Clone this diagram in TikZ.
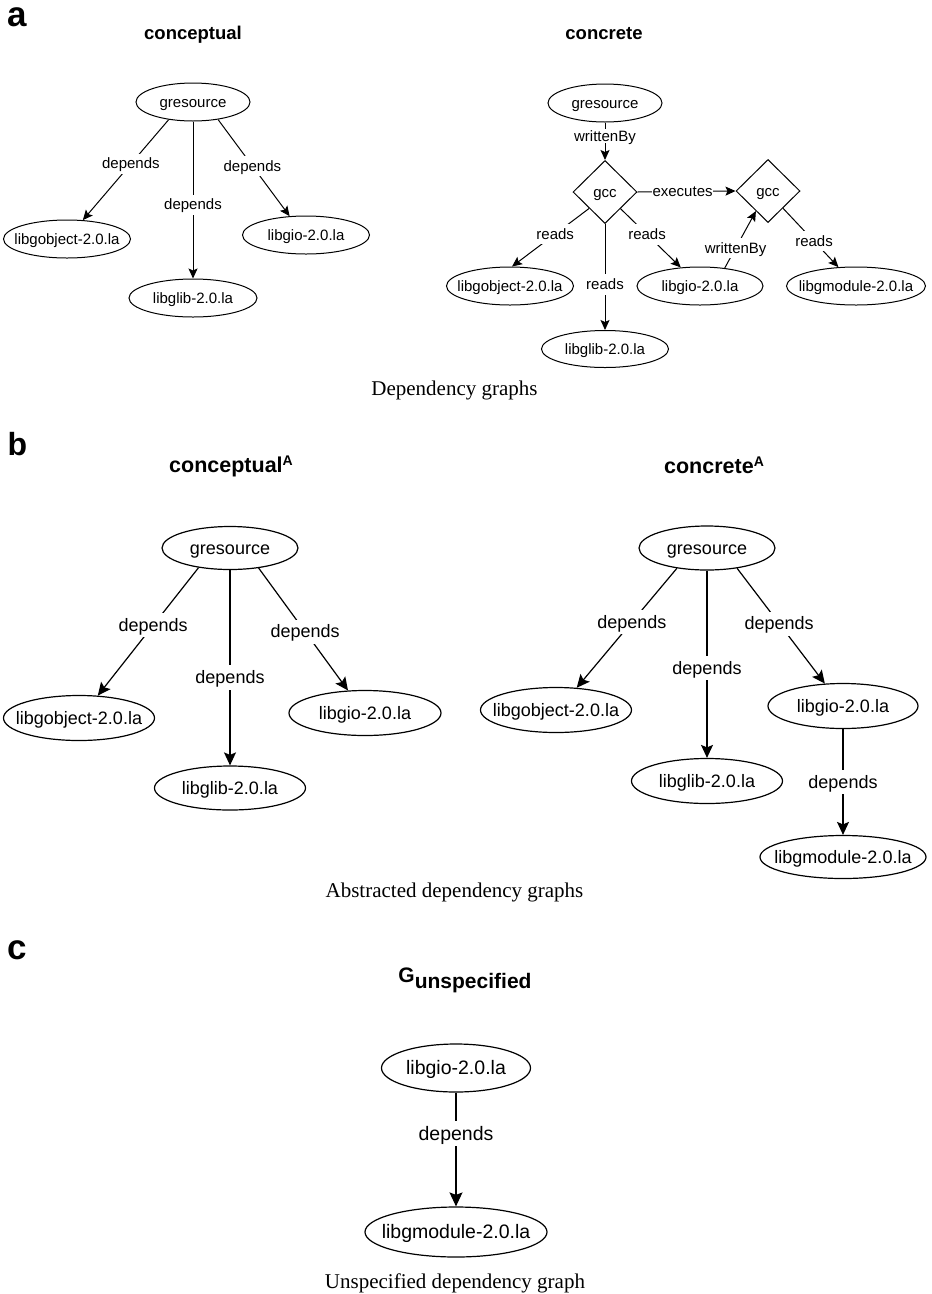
\documentclass[tikz,border=0pt]{standalone}
\usepackage{fontspec}
\newfontfamily\hv{Liberation Sans}
\newfontfamily\tm{Liberation Serif}
\usetikzlibrary{shapes.geometric,arrows.meta}
\newcommand\ztext[1]{\makebox[0pt]{#1}}
\begin{document}
\begin{tikzpicture}[x=1pt,y=-1pt,
  fA/.style={font={\hv\fontsize{15}{18}\selectfont}, text height=10.2pt, text depth=0pt},
  fB/.style={font={\hv\fontsize{18}{21}\selectfont}, text height=12.2pt, text depth=0pt},
  fC/.style={font={\hv\fontsize{19.5}{23}\selectfont}, text height=13.3pt, text depth=0pt},
  ovA/.style={fA, ellipse, draw, line width=1pt, inner sep=0pt, minimum height=38pt, minimum width=#1},
  ovB/.style={fB, ellipse, draw, line width=1.2pt, inner sep=0pt, minimum height=44pt, minimum width=#1},
  ovC/.style={fC, ellipse, draw, line width=1.2pt, inner sep=0pt, minimum height=48pt, minimum width=#1},
  dia/.style={fA, diamond, draw, line width=1pt, inner sep=0pt, minimum width=64pt, minimum height=63pt},
  lblA/.style={fA, fill=white, inner xsep=1pt, inner ysep=5pt},
  lblB/.style={fB, fill=white, inner xsep=1.5pt, inner ysep=6pt},
  lblC/.style={fC, fill=white, inner xsep=1.5pt, inner ysep=6pt},
  edA/.style={line width=1pt, -{Stealth[length=10pt,width=9pt,inset=2pt]}},
  edB/.style={line width=1.2pt, -{Stealth[length=13pt,width=12pt,inset=2.5pt]}},
  panel/.style={anchor=base west, font={\hv\bfseries\fontsize{35}{40}\selectfont}},
  ttlA/.style={anchor=base, font={\hv\bfseries\fontsize{18.5}{22}\selectfont}},
  ttlB/.style={anchor=base, font={\hv\bfseries\fontsize{21.5}{25}\selectfont}},
  capt/.style={anchor=base, font={\tm\fontsize{21}{25}\selectfont}}
]
\path[use as bounding box] (0,0) rectangle (932,1294);

% ---------------- panel a ----------------
\node[panel] (pa) at (4,26) {a};
\node[ttlA] (t1) at (193,39) {conceptual};
\node[ttlA] (t2) at (604,39) {concrete};

\node[ovA=114pt] (ag) at (193,102) {\ztext{gresource}};
\node[ovA=127pt] (agobj) at (67,239) {\ztext{libgobject-2.0.la}};
\node[ovA=128pt] (aglib) at (193,298) {\ztext{libglib-2.0.la}};
\node[ovA=127pt] (agio) at (306,235) {\ztext{libgio-2.0.la}};

\draw[edA] (ag.216) -- node[lblA,pos=.44] (l1) {depends} (agobj.50);
\draw[edA] (ag.south) -- node[lblA,pos=.53] (l2) {depends} (aglib.north);
\draw[edA] (ag.325) -- node[lblA,pos=.48] (l3) {depends} (agio.131.6);

\node[ovA=114pt] (cg) at (605,103) {\ztext{gresource}};
\node[dia] (gcc1) at (605,192) {\ztext{gcc}};
\node[dia] (gcc2) at (768,191) {\ztext{gcc}};
\node[ovA=127pt] (cgobj) at (510,286) {\ztext{libgobject-2.0.la}};
\node[ovA=127pt, minimum height=37pt] (cglib) at (605,349) {\ztext{libglib-2.0.la}};
\node[ovA=126pt] (cgio) at (700,286) {\ztext{libgio-2.0.la}};
\node[ovA=139pt] (cgmod) at (856,286) {\ztext{libgmodule-2.0.la}};

\draw[edA] (cg.south) -- node[lblA,pos=.37,inner ysep=2pt] (l4) {writtenBy} (gcc1.north);
\draw[edA] (gcc1.east) -- node[lblA,pos=.46,inner xsep=0.5pt] (l5) {executes} (gcc2.west);
\draw[edA] (gcc1.226.6) -- node[lblA,pos=.44] (l6) {reads} (cgobj.84.6);
\draw[edA] (gcc1.south) -- node[lblA,pos=.57] (l7) {reads} (cglib.north);
\draw[edA] (gcc1.313.4) -- node[lblA,pos=.44] (l8) {reads} (cgio.136.5);
\draw[edA] (cgio.36.9) -- node[lblA,pos=.35] (l9) {writtenBy} (gcc2.239.4);
\draw[edA] (gcc2.311.8) -- node[lblA,pos=.56] (l10) {reads} (cgmod.133.5);

\node[capt] (c1) at (454.5,395) {Dependency graphs};

% ---------------- panel b ----------------
\node[panel, font={\hv\bfseries\fontsize{32}{36}\selectfont}] (pb) at (4,455) {b};
\node[ttlB] (t3) at (231,472) {conceptual\raisebox{7pt}{\fontsize{14}{16}\selectfont A}};
\node[ttlB] (t4) at (714,473) {concrete\raisebox{7pt}{\fontsize{14}{16}\selectfont A}};

\node[ovB=136pt, minimum height=43pt] (bg) at (230,548) {\ztext{gresource}};
\node[ovB=151pt, minimum height=45pt] (bgobj) at (79,718) {\ztext{libgobject-2.0.la}};
\node[ovB=151pt] (bglib) at (230,788) {\ztext{libglib-2.0.la}};
\node[ovB=152pt, minimum height=45pt] (bgio) at (365,713) {\ztext{libgio-2.0.la}};

\draw[edB] (bg.212.8) -- node[lblB,pos=.45] (l11) {depends} (bgobj.50.7);
\draw[edB] (bg.south) -- node[lblB,pos=.55] (l12) {depends} (bglib.north);
\draw[edB] (bg.325) -- node[lblB,pos=.52] (l13) {depends} (bgio.127.7);

\node[ovB=136pt] (dg) at (707,548) {\ztext{gresource}};
\node[ovB=151pt, minimum height=45pt] (dgobj) at (556,710) {\ztext{libgobject-2.0.la}};
\node[ovB=151pt, minimum height=45pt] (dglib) at (707,781) {\ztext{libglib-2.0.la}};
\node[ovB=150pt, minimum height=45pt] (dgio) at (843,706) {\ztext{libgio-2.0.la}};
\node[ovB=166pt, minimum height=43pt] (dgmod) at (843,857) {\ztext{libgmodule-2.0.la}};

\draw[edB] (dg.214) -- node[lblB,pos=.45] (l14) {depends} (dgobj.47.7);
\draw[edB] (dg.south) -- node[lblB,pos=.52] (l15) {depends} (dglib.north);
\draw[edB] (dg.326.7) -- node[lblB,pos=.48] (l16) {depends} (dgio.129.6);
\draw[edB] (dgio.south) -- node[lblB,pos=.5] (l17) {depends} (dgmod.north);

\node[capt] (c2) at (454.5,897) {Abstracted dependency graphs};

% ---------------- panel c ----------------
\node[panel] (pc) at (4,959) {c};
\node[anchor=base, font={\hv\bfseries\fontsize{21}{25}\selectfont}] (t5) at (465,982) {G\raisebox{-6pt}{unspecified}};

\node[ovC=149pt] (egio) at (456,1068) {\ztext{libgio-2.0.la}};
\node[ovC=182pt, minimum height=50pt] (egmod) at (456,1232) {\ztext{libgmodule-2.0.la}};
\draw[edB, -{Stealth[length=14pt,width=13pt,inset=2.5pt]}] (egio.south) -- node[lblC,pos=.36] (l18) {depends} (egmod.north);

\node[capt] (c3) at (455,1288) {Unspecified dependency graph};
\end{tikzpicture}
\end{document}
